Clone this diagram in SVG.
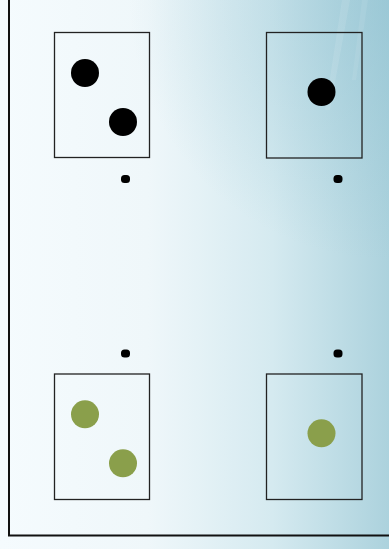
<svg xmlns="http://www.w3.org/2000/svg" width="389" height="549" viewBox="0 0 389 549">
<defs>
<linearGradient id="bg" x1="0" y1="0" x2="389" y2="0" gradientUnits="userSpaceOnUse">
<stop offset="0" stop-color="#f5fbfe"/>
<stop offset="0.38" stop-color="#eff7fa"/>
<stop offset="0.7" stop-color="#d5eaf0"/>
<stop offset="1" stop-color="#acd2dd"/>
</linearGradient>
<radialGradient id="tint" cx="389" cy="0" r="260" gradientUnits="userSpaceOnUse">
<stop offset="0" stop-color="#86bccd" stop-opacity="0.45"/>
<stop offset="1" stop-color="#86bccd" stop-opacity="0"/>
</radialGradient>
<style>
.box{fill:none;stroke:#222;stroke-width:1.3}
.blk{fill:#000}
.grn{fill:#8a9f4b}
</style>
</defs>
<rect x="0" y="0" width="389" height="549" fill="url(#bg)"/>
<rect x="0" y="0" width="389" height="549" fill="url(#tint)"/>
<polygon points="342,0 350,0 330,110 325,110" fill="#ffffff" opacity="0.1"/>
<polygon points="362,0 368,0 356,80 352,80" fill="#ffffff" opacity="0.08"/>
<path d="M9,0 V535.5 H389" fill="none" stroke="#111" stroke-width="2"/>
<g id="node-top-left">
<rect class="box" x="54.5" y="32.5" width="95" height="125"/>
<circle class="blk" cx="85" cy="73" r="14"/>
<circle class="blk" cx="123" cy="122" r="14"/>
</g>
<g id="node-top-right">
<rect class="box" x="266.5" y="32.5" width="95.5" height="125.5"/>
<circle class="blk" cx="321.5" cy="92" r="14"/>
</g>
<g id="node-bottom-left">
<rect class="box" x="54.5" y="374" width="95" height="125.5"/>
<circle class="grn" cx="85" cy="414.3" r="14"/>
<circle class="grn" cx="123" cy="463.3" r="14"/>
</g>
<g id="node-bottom-right">
<rect class="box" x="266.5" y="374" width="95.5" height="125.5"/>
<circle class="grn" cx="321.5" cy="433.3" r="14"/>
</g>
<g id="connectors">
<rect class="blk" x="121" y="175" width="9" height="8" rx="3.5"/>
<rect class="blk" x="333.5" y="175" width="9" height="8" rx="3.5"/>
<rect class="blk" x="121" y="349.5" width="9" height="8" rx="3.5"/>
<rect class="blk" x="333.5" y="349.5" width="9" height="8" rx="3.5"/>
</g>
</svg>
